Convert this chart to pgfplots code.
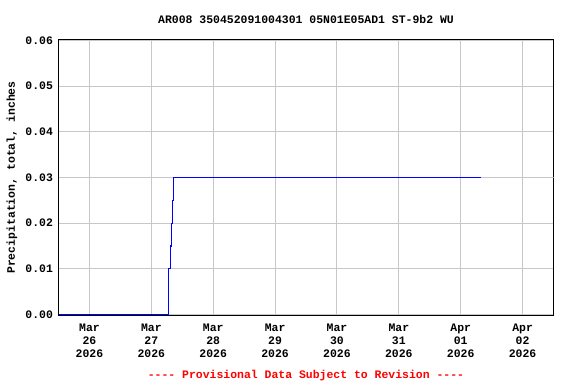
\documentclass[border=0pt]{standalone}
\usepackage{fontspec}
\setmonofont{Liberation Mono}
\usepackage{pgfplots}
\pgfplotsset{compat=1.18}
\newcommand\ff{\ttfamily\bfseries\fontsize{11.5}{13}\selectfont}
\pgfplotsset{geom/.style={
  at={(58.5bp,68.5bp)}, anchor=south west,
  scale only axis, width=495bp, height=276bp,
  xmin=-0.5, xmax=7.5, ymin=-0.000219, ymax=0.060219}}
\begin{document}
\begin{tikzpicture}[x=1bp,y=1bp]
\path[use as bounding box] (0,0) rectangle (576,384);
\begin{axis}[geom,
  xtick={0,1,2,3,4,5,6,7},
  xticklabels={{Mar\\26\\2026},{Mar\\27\\2026},{Mar\\28\\2026},{Mar\\29\\2026},{Mar\\30\\2026},{Mar\\31\\2026},{Apr\\01\\2026},{Apr\\02\\2026}},
  xticklabel style={align=center, font=\ff, yshift=-5bp},
  ytick={0,0.01,0.02,0.04,0.05,0.06},
  extra y ticks={0.03},
  extra y tick style={grid=none},
  yticklabel style={font=\ff, xshift=-2bp, /pgf/number format/.cd, fixed, fixed zerofill, precision=2, assume math mode=true},
  scaled y ticks=false,
  grid=major,
  major grid style={color=black!22, line width=1bp},
  tick style={draw=none},
  axis line style={line width=1bp, black},
]
\addplot[color=black!22, line width=1bp] coordinates {(-0.5,0.03) (1.364,0.03)};
\addplot[color=black!22, line width=1bp] coordinates {(6.327,0.03) (7.5,0.03)};
\end{axis}
\begin{axis}[geom, hide axis]
\addplot[const plot, color={rgb,255:red,0;green,0;blue,255}, line width=1.1bp] coordinates {
 (-0.5,0) (1.278,0.01) (1.311,0.015) (1.32,0.02) (1.348,0.025) (1.364,0.03) (6.327,0.03)
};
\end{axis}
\node[font=\ff] at (306,365) {AR008 350452091004301 05N01E05AD1 ST-9b2 WU};
\node[font=\ff, rotate=90] at (12,206.5) {Precipitation, total, inches};
\node[font=\ff, text=red] at (306,8) {---- Provisional Data Subject to Revision ----};
\end{tikzpicture}
\end{document}
